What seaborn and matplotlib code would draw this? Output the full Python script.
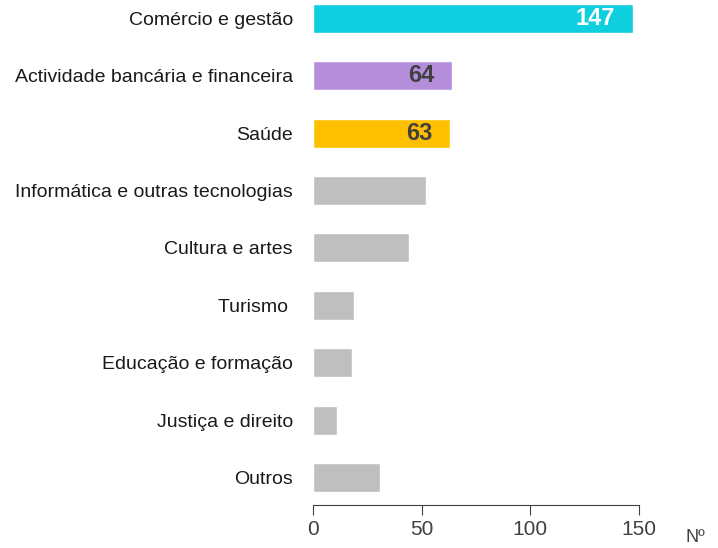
import pandas as pd
import matplotlib.pyplot as plt
import seaborn as sns

# data
categories = ["Comércio e gestão", "Actividade bancária e financeira", "Saúde",
              "Informática e outras tecnologias", "Cultura e artes", "Turismo ",
              "Educação e formação", "Justiça e direito", "Outros"]
values = [147, 64, 63, 52, 44, 19, 18, 11, 31]
bar_colors = ["#0ECFDF", "#B48EDB", "#FFC000", "#BFBFBF", "#BFBFBF",
              "#BFBFBF", "#BFBFBF", "#BFBFBF", "#BFBFBF"]
labelled = {0: "white", 1: "#404040", 2: "#404040"}

df = pd.DataFrame({"Area": categories, "N": values})

sns.set_style("white")
plt.rcParams["font.family"] = ["Liberation Sans", "DejaVu Sans"]

fig = plt.figure(figsize=(7.18, 5.48), dpi=100)
ax = fig.add_axes([0.436, 0.0785, 0.454, 0.9215])
sns.barplot(data=df, y="Area", x="N", hue="Area", palette=bar_colors,
            legend=False, width=0.505, saturation=1, ax=ax)

# value labels inside the highlighted bars
for i, col in labelled.items():
    ax.text(values[i] - 8, i, str(values[i]), ha="right", va="center",
            color=col, fontsize=17, fontweight="bold")

ax.set_xlim(0, 150)
ax.set_ylim(8.479, -0.322)
ax.set_xticks([0, 50, 100, 150])
ax.set_xlabel("")
ax.set_ylabel("")
sns.despine(ax=ax, left=True)
ax.spines["bottom"].set_color("#404040")
ax.tick_params(axis="x", bottom=True, direction="out", length=7, color="#404040",
               labelsize=15, labelcolor="#404040", pad=4)
ax.tick_params(axis="y", left=False, labelsize=14, labelcolor="#1a1a1a", pad=11)
fig.text(695 / 718, 1 - 538 / 548, "Nº", ha="center", va="center",
         fontsize=13, color="#404040")

plt.savefig("out.png", dpi=100)
